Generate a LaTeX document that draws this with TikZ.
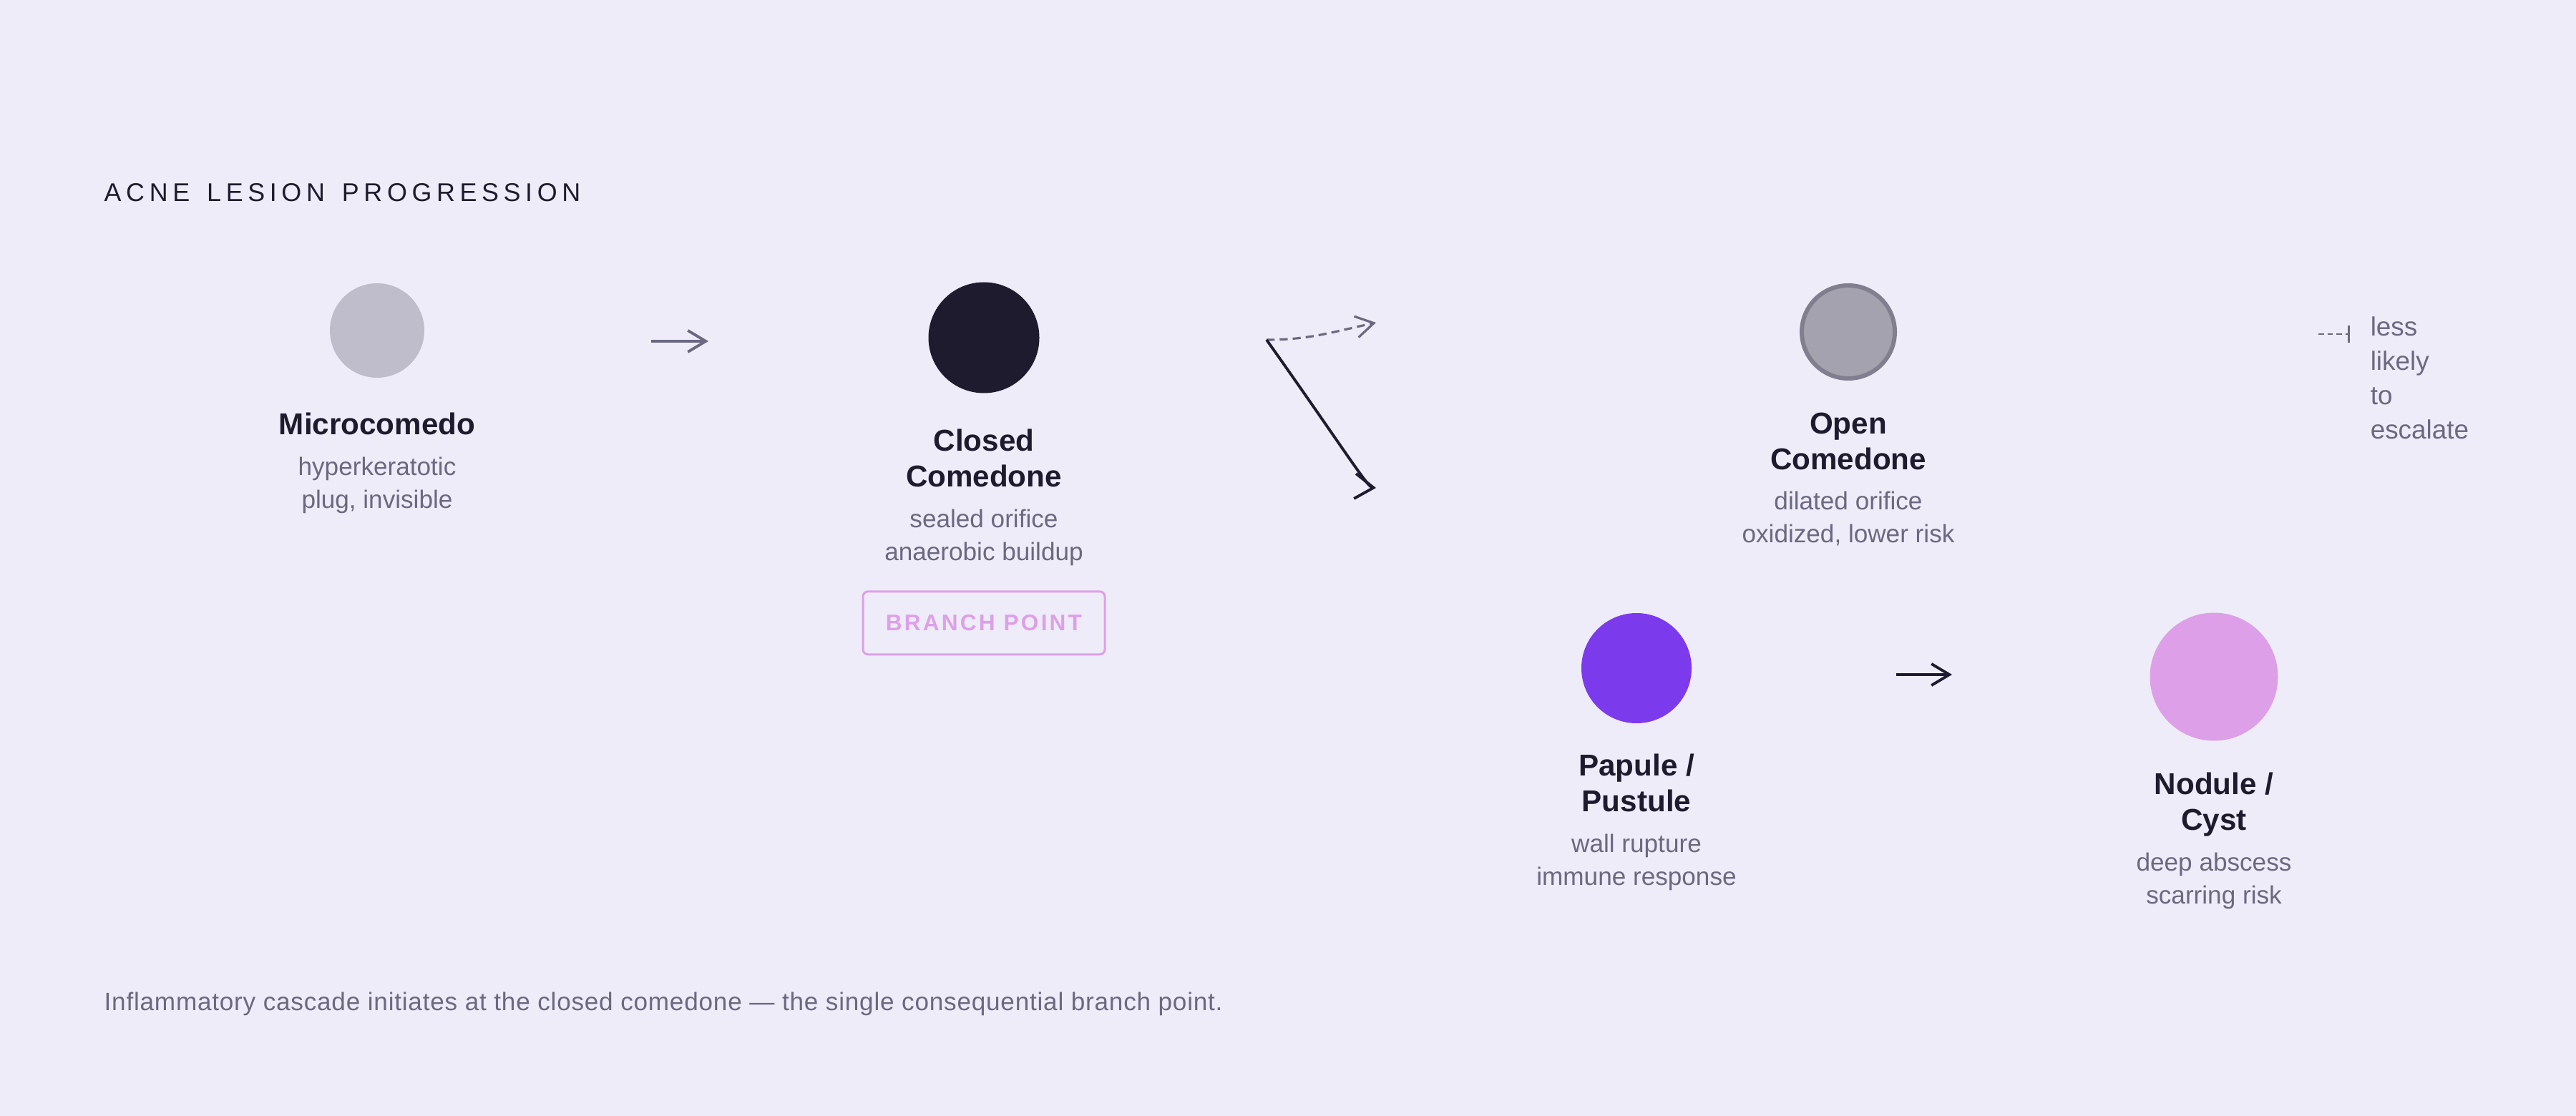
\documentclass[tikz,border=0pt]{standalone}
\usepackage{fontspec}
\setmainfont{Liberation Sans}
\newfontfamily\kickerfont[LetterSpace=18.5, WordSpace=1.45]{Liberation Sans}
\usetikzlibrary{positioning,arrows.meta}
\definecolor{bgcol}{HTML}{EEECF8}
\definecolor{ink}{HTML}{1E1B2E}
\definecolor{slate}{HTML}{6B6880}
\definecolor{micro}{HTML}{BFBCCB}
\definecolor{openfill}{HTML}{A5A2B0}
\definecolor{openedge}{HTML}{817E8F}
\definecolor{papule}{HTML}{7C3AED}
\definecolor{orchid}{HTML}{DDA0E8}

\begin{document}
\begin{tikzpicture}[node distance=0.45cm,
  lesion/.style={shape=circle, inner sep=0pt},
  stagename/.style={font=\fontsize{12}{14.2}\selectfont\bfseries, text=ink, align=center, inner sep=0pt, text depth=0pt},
  stagenote/.style={font=\fontsize{10}{13.1}\selectfont, text=slate, align=center, inner sep=0pt},
  flow/.style={line width=1.1pt, -{Straight Barb[length=0.25cm, width=0.3cm]}}]
\useasboundingbox (0,0) rectangle (36,-15.6);
\fill [bgcol] (0,0) rectangle (36,-15.6);

\node [anchor=base west, inner sep=0pt, text=ink, font=\kickerfont\fontsize{10.2}{12}\selectfont] (title) at (1.45,-2.82) {ACNE LESION PROGRESSION};

\node [lesion, fill=micro, minimum size=1.32cm] (mc) at (5.27,-4.62) {};
\node [stagename, below=0.48cm of mc] (mcname) {Microcomedo};
\node [stagenote, below=0.30cm of mcname] (mcnote) {hyperkeratotic\\plug, invisible};

\node [lesion, fill=ink, minimum size=1.55cm] (cc) at (13.75,-4.72) {};
\node [stagename, below=0.49cm of cc] (ccname) {Closed\\Comedone};
\node [stagenote, below=0.30cm of ccname] (ccnote) {sealed orifice\\anaerobic buildup};
\node [draw=orchid, line width=0.85pt, rounded corners=2pt, minimum width=3.38cm, minimum height=0.88cm, text=orchid, font=\fontsize{9}{11}\selectfont\bfseries\addfontfeature{LetterSpace=10}, below=0.34cm of ccnote] (branch) {BRANCH POINT};

\node [lesion, fill=openfill, draw=openedge, line width=1.7pt, minimum size=1.30cm] (oc) at (25.83,-4.64) {};
\node [stagename, below=0.44cm of oc] (ocname) {Open\\Comedone};
\node [stagenote, below=0.30cm of ocname] (ocnote) {dilated orifice\\oxidized, lower risk};

\node [lesion, fill=papule, minimum size=1.54cm] (pp) at (22.87,-9.34) {};
\node [stagename, below=0.42cm of pp] (ppname) {Papule /\\Pustule};
\node [stagenote, below=0.30cm of ppname] (ppnote) {wall rupture\\immune response};

\node [lesion, fill=orchid, minimum size=1.79cm] (nc) at (30.94,-9.46) {};
\node [stagename, below=0.43cm of nc] (ncname) {Nodule /\\Cyst};
\node [stagenote, below=0.30cm of ncname] (ncnote) {deep abscess\\scarring risk};

\coordinate (s1) at (9.10,-4.77);
\coordinate (e1) at (9.90,-4.77);
\draw [flow, slate] (s1) -- (e1);

\coordinate (fork) at (17.70,-4.75);
\coordinate (toopen) at (19.23,-4.51);
\coordinate (topap) at (19.23,-6.82);
\draw [flow, slate, line width=0.9pt, dash pattern=on 3.2pt off 2pt] (fork) to [out=0, in=192] (toopen);
\draw [line width=1.1pt, ink, -{Straight Barb[length=0.26cm, width=0.35cm]}] (fork) .. controls (18.70,-6.16) and (19.11,-6.81) .. (topap);

\coordinate (s2) at (26.50,-9.43);
\coordinate (e2) at (27.28,-9.43);
\draw [flow, ink] (s2) -- (e2);

\coordinate (lgs) at (32.40,-4.67);
\coordinate (lge) at (32.84,-4.67);
\draw [slate, line width=0.7pt, dash pattern=on 2.2pt off 1.4pt, -{Bar[width=0.24cm, line width=0.8pt]}] (lgs) -- (lge);
\node [anchor=north west, inner sep=0pt, align=left, text=slate, font=\fontsize{10.5}{13.7}\selectfont] (lgtext) at (33.12,-4.42) {less\\likely\\to\\escalate};

\node [anchor=base west, inner sep=0pt, text=slate, font=\fontsize{10}{12}\selectfont\addfontfeature{LetterSpace=2.2}] (footer) at (1.45,-14.12) {Inflammatory cascade initiates at the closed comedone — the single consequential branch point.};
\end{tikzpicture}
\end{document}
